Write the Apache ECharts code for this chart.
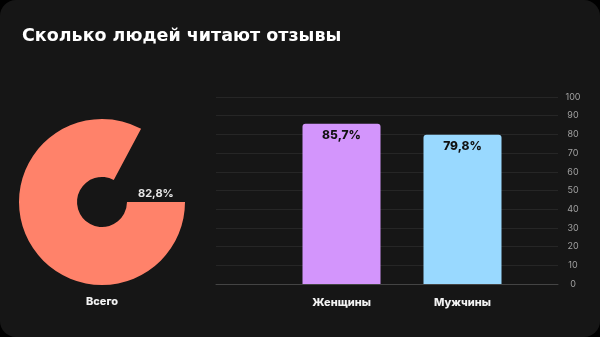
<!DOCTYPE html>
<html>
<head>
<meta charset="utf-8">
<script src="https://cdn.jsdelivr.net/npm/echarts@6/dist/echarts.min.js"></script>
<style>
  html, body { margin: 0; padding: 0; background: #000; }
  #chart { width: 600px; height: 337px; background: #161616; border-radius: 16px; overflow: hidden; }
</style>
</head>
<body>
<div id="chart"></div>
<script>
// Share of people who read reviews
const titleText = 'Сколько людей читают отзывы';
const totalLabel = 'Всего';
const totalValue = 82.8;
const groupCategories = ['Женщины', 'Мужчины'];
const groupValues = [85.7, 79.8];
const groupColors = ['#D395FC', '#99D9FF'];
const yTicks = [0, 10, 20, 30, 40, 50, 60, 70, 80, 90, 100];

const fmt = v => v.toFixed(1).replace('.', ',') + '%';
const FONT = 'Inter, "Noto Sans", sans-serif';
const WIDE = '"DejaVu Sans", Inter, sans-serif';

const chart = echarts.init(document.getElementById('chart'), null, { renderer: 'canvas' });

chart.setOption({
  backgroundColor: 'transparent',
  animation: false,
  title: {
    text: titleText,
    left: 17,
    top: 22,
    textStyle: { color: '#ffffff', fontSize: 17.5, fontWeight: 'bold', fontFamily: WIDE }
  },
  grid: [
    // background grid with the value scale on the right
    { left: 216, right: 42, top: 97, bottom: 53 },
    // bars
    { left: 281, width: 242, top: 97, bottom: 53 }
  ],
  xAxis: [
    {
      gridIndex: 0, type: 'category', data: [''],
      axisLine: { show: true, lineStyle: { color: '#444444', width: 1 } },
      axisTick: { show: false }, axisLabel: { show: false }, splitLine: { show: false }
    },
    {
      gridIndex: 1, type: 'category', data: groupCategories,
      axisLine: { show: false }, axisTick: { show: false },
      axisLabel: { color: '#f2f2f2', fontSize: 11, fontWeight: 800, fontFamily: FONT, margin: 13 }
    }
  ],
  yAxis: [
    {
      gridIndex: 0, type: 'value', position: 'right', min: 0, max: yTicks[yTicks.length - 1], interval: 10,
      axisLine: { show: false }, axisTick: { show: false },
      axisLabel: { color: '#a0a0a0', fontSize: 9, fontFamily: FONT, margin: 15, align: 'center',
                   formatter: v => yTicks.includes(v) ? String(v) : '' },
      splitLine: { show: true, lineStyle: { color: '#262626', width: 1 } }
    },
    {
      gridIndex: 1, type: 'value', min: 0, max: 100, show: false, splitLine: { show: false }
    }
  ],
  series: [
    {
      type: 'bar',
      xAxisIndex: 1, yAxisIndex: 1,
      barWidth: 78,
      silent: true,
      data: groupValues.map((v, i) => ({
        value: v,
        itemStyle: { color: groupColors[i], borderRadius: [3, 3, 0, 0] }
      })),
      label: {
        show: true, position: 'insideTop', distance: 6,
        formatter: p => fmt(p.value),
        color: '#111111', fontSize: 12, fontWeight: 800, fontFamily: FONT
      }
    },
    {
      type: 'pie',
      center: [102, 202],
      radius: [25, 83],
      startAngle: 0,
      clockwise: true,
      silent: true,
      label: { show: false },
      labelLine: { show: false },
      data: [
        { value: totalValue, name: totalLabel, itemStyle: { color: '#FF826A' } },
        { value: 100 - totalValue, name: '', itemStyle: { color: 'rgba(0,0,0,0)' } }
      ]
    }
  ],
  graphic: [
    {
      type: 'text', left: 138, top: 188,
      style: { text: fmt(totalValue), fill: '#e6e6e6', fontSize: 11, fontWeight: 700, fontFamily: FONT }
    },
    {
      type: 'text',
      style: { text: totalLabel, fill: '#f2f2f2', fontSize: 11, fontWeight: 800, fontFamily: FONT,
               textAlign: 'center', x: 102, y: 296 }
    }
  ]
});
</script>
</body>
</html>
